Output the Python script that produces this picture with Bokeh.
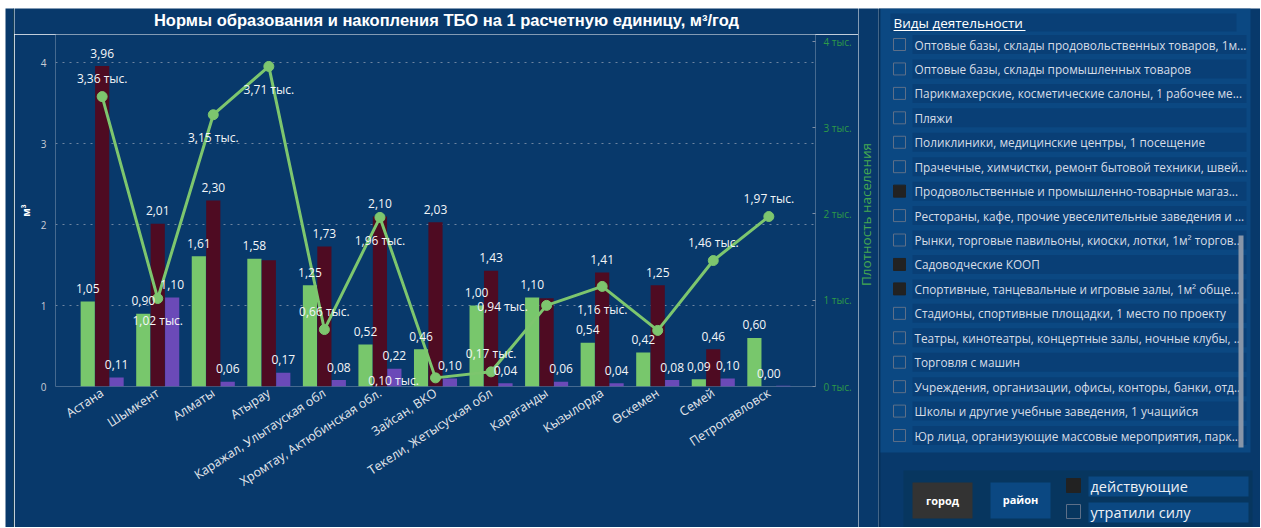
import math
from bokeh.plotting import figure
from bokeh.models import ColumnDataSource, FactorRange, Range1d, LinearAxis, FixedTicker, Spacer
from bokeh.transform import dodge
from bokeh.core.properties import value
from bokeh.layouts import row, column
from bokeh.embed import file_html
from bokeh.resources import INLINE

# ---------------- data ----------------
cities = ["Астана", "Шымкент", "Алматы", "Атырау", "Каражал, Улытауская обл",
          "Хромтау, Актюбинская обл.", "Зайсан, ВКО", "Текели, Жетысуская обл",
          "Караганды", "Кызылорда", "Өскемен", "Семей", "Петропавловск"]
norm_green = [1.05, 0.90, 1.61, 1.58, 1.25, 0.52, 0.46, 1.00, 1.10, 0.54, 0.42, 0.09, 0.60]
norm_darkred = [3.96, 2.01, 2.30, 1.56, 1.73, 2.10, 2.03, 1.43, 1.09, 1.41, 1.25, 0.46, 0.00]
norm_purple = [0.11, 1.10, 0.06, 0.17, 0.08, 0.22, 0.10, 0.04, 0.06, 0.04, 0.08, 0.10, 0.01]
density_thousands = [3.36, 1.02, 3.15, 3.71, 0.66, 1.96, 0.10, 0.17, 0.94, 1.16, 0.65, 1.46, 1.97]

hidden_darkred_labels = ["Атырау", "Караганды"]
hidden_purple_labels = ["Петропавловск"]
hidden_density_labels = ["Өскемен"]

left_ticks = [0, 1, 2, 3, 4]
right_ticks = [0, 1, 2, 3, 4]

chart_title = "Нормы образования и накопления ТБО на 1 расчетную единицу, м³/год"
right_axis_title = "Плотность населения"

activity_types = [
    "Оптовые базы, склады продовольственных товаров, 1м...",
    "Оптовые базы, склады промышленных товаров",
    "Парикмахерские, косметические салоны, 1 рабочее ме...",
    "Пляжи",
    "Поликлиники, медицинские центры, 1 посещение",
    "Прачечные, химчистки, ремонт бытовой техники, швей...",
    "Продовольственные и промышленно-товарные магаз...",
    "Рестораны, кафе, прочие увеселительные заведения и ...",
    "Рынки, торговые павильоны, киоски, лотки, 1м² торгов...",
    "Садоводческие КООП",
    "Спортивные, танцевальные и игровые залы, 1м² обще...",
    "Стадионы, спортивные площадки, 1 место по проекту",
    "Театры, кинотеатры, концертные залы, ночные клубы, ...",
    "Торговля с машин",
    "Учреждения, организации, офисы, конторы, банки, отд...",
    "Школы и другие учебные заведения, 1 учащийся",
    "Юр лица, организующие массовые мероприятия, парк...",
]
activity_checked = [False, False, False, False, False, False, True, False, False,
                    True, True, False, False, False, False, False, False]

# label placement (pixels) for the density line labels
density_label_dx = [0, 0, 0, 0, 0, 0, -42, 0, -44, 0, 0, 0, 0]
density_label_dy = [-18, 22, 23, 23, -18, 23, 3, -18, 1, 23, 0, -18, -18]

# ---------------- style ----------------
BG = "#08396B"
PANEL = "#0B4882"
STRIP = "#093F76"
GREEN = "#78C76C"
DARKRED = "#4E0B22"
PURPLE = "#6B4AB8"
LINE = "#7DC66E"
FONT = "Open Sans"
H = 519          # total height of the visual (page y 8 .. 527)
TOP = 26         # title band height
CW = 844         # chart figure width (page x 14 .. 858)


def fmt(v):
    return f"{v:.2f}".replace(".", ",")


def blank(width, height, xr, yr):
    f = figure(width=width, height=height, x_range=xr, y_range=yr,
               output_backend="svg", toolbar_location=None, min_border=0,
               x_axis_type=None, y_axis_type=None)
    f.background_fill_color = BG
    f.border_fill_color = BG
    f.outline_line_color = None
    f.frame_align = False
    return f


src = ColumnDataSource(dict(
    city=cities,
    g=norm_green,
    r=norm_darkred,
    p=norm_purple,
    d=density_thousands,
    g_lbl=[fmt(v) for v in norm_green],
    r_lbl=["" if c in hidden_darkred_labels else fmt(v) for c, v in zip(cities, norm_darkred)],
    p_lbl=["" if c in hidden_purple_labels else fmt(v) for c, v in zip(cities, norm_purple)],
    d_lbl=["" if c in hidden_density_labels else fmt(v) + " тыс." for c, v in zip(cities, density_thousands)],
    d_dx=density_label_dx,
    d_dy=density_label_dy,
))

# thin left edge strip with a dark border line
e = blank(9, H, Range1d(0, 9), Range1d(0, 1))
e.quad(left=[7.5], right=[9], top=[1], bottom=[0], fill_color="#133E55", line_color=None)

# title band
t = blank(CW, TOP, Range1d(14, 14 + CW), Range1d(8 + TOP, 8))
t.text(x=[446], y=[19], text=[chart_title], text_color="#FFFFFF",
       text_font=value("Liberation Sans"), text_font_style="bold", text_font_size="16.5px",
       text_align="center", text_baseline="middle")

# main chart
p = figure(
    x_range=FactorRange(*cities, range_padding=0.34, range_padding_units="absolute"),
    y_range=Range1d(0, 4.35),
    width=CW, height=H - TOP,
    output_backend="svg", toolbar_location=None,
    min_border_left=41, min_border_right=43, min_border_top=0, min_border_bottom=141,
)
p.frame_align = False
p.background_fill_color = BG
p.border_fill_color = BG
p.outline_line_color = None

p.extra_y_ranges = {"density": Range1d(0, 4.08)}

lax = p.left[0]
lax.ticker = FixedTicker(ticks=left_ticks)
lax.axis_label = "м³"
lax.axis_label_text_color = "#FFFFFF"
lax.axis_label_text_font = FONT
lax.axis_label_text_font_size = "10px"
lax.axis_label_text_font_style = "bold"
lax.axis_label_standoff = 5
lax.major_label_text_color = "#C8CDD6"
lax.major_label_text_font = FONT
lax.major_label_text_font_size = "10px"
lax.major_label_standoff = 9
lax.axis_line_color = None
lax.major_tick_line_color = None
lax.major_tick_in = 0
lax.major_tick_out = 0
lax.minor_tick_line_color = None
lax.minor_tick_in = 0
lax.minor_tick_out = 0

rax = LinearAxis(y_range_name="density", ticker=FixedTicker(ticks=right_ticks),
                 major_label_overrides={tk: f"{tk} тыс." for tk in right_ticks})
rax.major_label_text_color = "#2E9A48"
rax.major_label_text_font = FONT
rax.major_label_text_font_size = "10px"
rax.major_label_standoff = 8
rax.axis_line_color = None
rax.major_tick_in = 3
rax.major_tick_out = 0
rax.major_tick_line_color = "#7F8FA6"
rax.minor_tick_line_color = None
rax.minor_tick_in = 0
rax.minor_tick_out = 0
p.add_layout(rax, "right")

xax = p.below[0]
xax.major_label_orientation = 0.58
xax.major_label_text_color = "#E4E7EC"
xax.major_label_text_font = FONT
xax.major_label_text_font_size = "12.5px"
xax.major_label_standoff = 5
xax.axis_line_color = None
xax.major_tick_line_color = None
xax.major_tick_in = 0
xax.major_tick_out = 0

p.xgrid.grid_line_color = None
p.ygrid.grid_line_color = "#8797AE"
p.ygrid.grid_line_alpha = 0.8
p.ygrid.grid_line_dash = "2 5"
p.ygrid.grid_line_width = 1

W = 0.255
OFF = 0.26
p.vbar(x=dodge("city", -OFF, range=p.x_range), top="g", width=W, source=src,
       fill_color=GREEN, line_color=None)
p.vbar(x=dodge("city", 0, range=p.x_range), top="r", width=W, source=src,
       fill_color=DARKRED, line_color=None)
p.vbar(x=dodge("city", OFF, range=p.x_range), top="p", width=W, source=src,
       fill_color=PURPLE, line_color=None)

p.line(x="city", y="d", y_range_name="density", source=src, line_color=LINE, line_width=3)
p.scatter(x="city", y="d", y_range_name="density", source=src, size=10,
          fill_color=LINE, line_color=LINE)

lbl_kw = dict(text_align="center", text_baseline="middle", text_color="#F4F6F8",
              text_font=value(FONT), text_font_size="12px", source=src)
p.text(x=dodge("city", -OFF, range=p.x_range), y="g", text="g_lbl", y_offset=-13, **lbl_kw)
p.text(x=dodge("city", 0, range=p.x_range), y="r", text="r_lbl", y_offset=-13, **lbl_kw)
p.text(x=dodge("city", OFF, range=p.x_range), y="p", text="p_lbl", y_offset=-13, **lbl_kw)
p.text(x="city", y="d", y_range_name="density", text="d_lbl", x_offset="d_dx",
       y_offset="d_dy", **lbl_kw)

# right axis title strip (page x 858 .. 878), text reads bottom-to-top
a = blank(20, H, Range1d(858, 878), Range1d(0, H))
a.text(x=[865], y=[8 + H - 214], text=[right_axis_title], angle=math.pi / 2,
       text_color="#46A851", text_font=value(FONT), text_font_size="13.5px",
       text_align="center", text_baseline="middle")

# ---------------- right slicer panel (page pixel coordinates) ----------------
q = blank(382, H, Range1d(878, 1260), Range1d(8 + H, 8))

# divider + panel box
q.quad(left=[876], right=[880], top=[8], bottom=[530], fill_color="#05305A", line_color=None)
q.quad(left=[880], right=[1250], top=[8], bottom=[452], fill_color=PANEL, line_color=None)
# header
q.quad(left=[890], right=[1236], top=[13], bottom=[31], fill_color=STRIP, line_color=None)
q.text(x=[893], y=[22], text=["Виды деятельности"], text_color="#FFFFFF",
       text_font=value(FONT), text_font_size="13.5px", text_baseline="middle")
q.segment(x0=[893], y0=[30], x1=[1025], y1=[30], line_color="#FFFFFF", line_width=1)

n = len(activity_types)
ys = [44 + i * 24.44 for i in range(n)]
q.quad(left=[912] * n, right=[1246] * n, top=[y - 9.5 for y in ys], bottom=[y + 9.5 for y in ys],
       fill_color=STRIP, line_color=None)
q.quad(left=[893] * n, right=[905] * n, top=[y - 6 for y in ys], bottom=[y + 6 for y in ys],
       fill_color=["#222222" if c else None for c in activity_checked],
       line_color=["#222222" if c else "#5D6F88" for c in activity_checked], line_width=1)
q.text(x=[914] * n, y=ys, text=activity_types, text_color="#D7DDE7",
       text_font=value(FONT), text_font_size="11.8px", text_baseline="middle")
# scrollbar
q.quad(left=[1238], right=[1243], top=[235], bottom=[447], fill_color="#8795A8", line_color=None)

# bottom controls
q.quad(left=[903], right=[1252], top=[470], bottom=[530], fill_color="#07365F", line_color=None)
q.quad(left=[912], right=[972], top=[482], bottom=[518], fill_color="#333333", line_color=None)
q.quad(left=[990], right=[1050], top=[482], bottom=[518], fill_color=PANEL, line_color=None)
q.text(x=[942, 1020], y=[500, 499], text=["город", "район"], text_color="#FFFFFF",
       text_font=value(FONT), text_font_size="11px", text_font_style="bold",
       text_align="center", text_baseline="middle")
q.quad(left=[1088, 1088], right=[1248, 1248], top=[476, 502], bottom=[496, 522],
       fill_color=PANEL, line_color=None)
q.quad(left=[1066, 1066], right=[1080, 1080], top=[478, 504], bottom=[492, 518],
       fill_color=["#222222", None], line_color=["#222222", "#5D6F88"], line_width=1)
q.text(x=[1090, 1090], y=[486, 512], text=["действующие", "утратили силу"],
       text_color="#EEF1F5", text_font=value(FONT), text_font_size="14.5px",
       text_baseline="middle")

layout = column(Spacer(height=8), row(Spacer(width=5), e, column(t, p), a, q))
open("out.html", "w").write(file_html(layout, INLINE))
